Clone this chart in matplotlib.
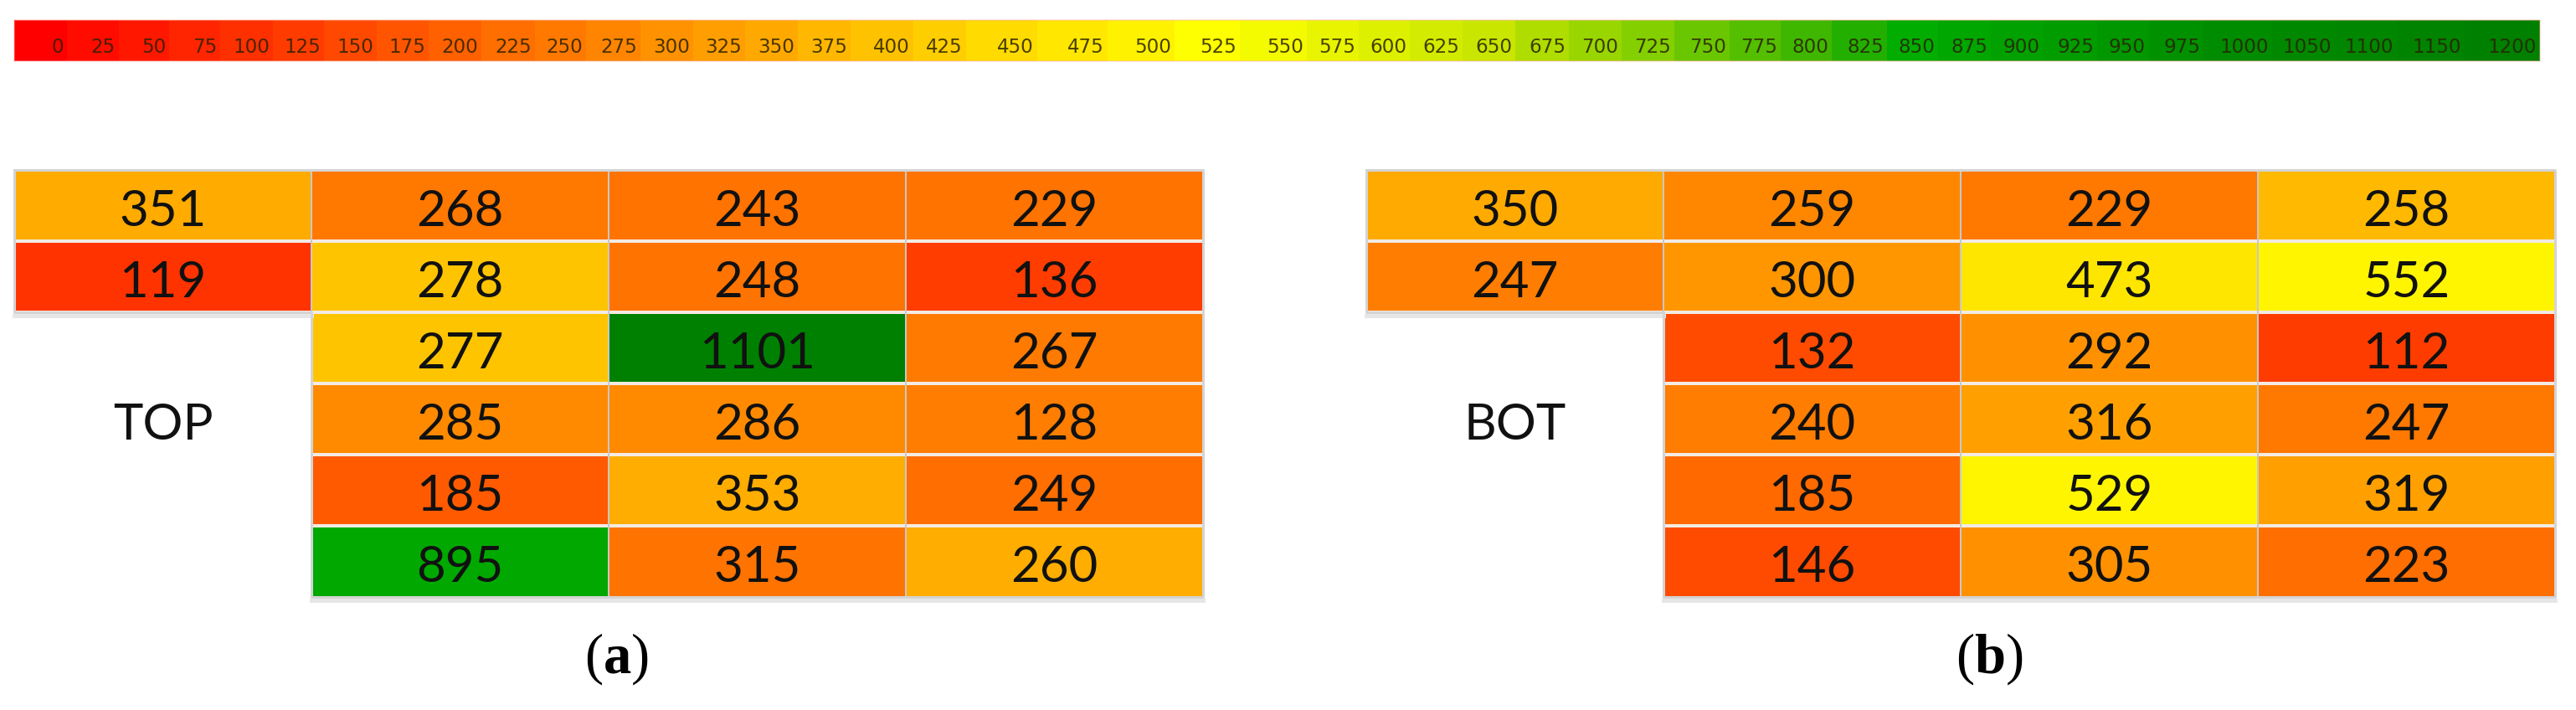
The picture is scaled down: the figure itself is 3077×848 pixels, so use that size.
import matplotlib
matplotlib.use("Agg")
import matplotlib.pyplot as plt
from matplotlib.patches import Rectangle
from matplotlib.colors import LinearSegmentedColormap, Normalize

# ---------------- data ----------------
scale_labels = [0, 25, 50, 75, 100, 125, 150, 175, 200, 225, 250, 275, 300, 325, 350,
                375, 400, 425, 450, 475, 500, 525, 550, 575, 600, 625, 650, 675, 700,
                725, 750, 775, 800, 825, 850, 875, 900, 925, 950, 975, 1000, 1050,
                1100, 1150, 1200]

# None = empty cell (label area)
top_values = [
    [351, 268, 243, 229],
    [119, 278, 248, 136],
    [None, 277, 1101, 267],
    [None, 285, 286, 128],
    [None, 185, 353, 249],
    [None, 895, 315, 260],
]
bot_values = [
    [350, 259, 229, 258],
    [247, 300, 473, 552],
    [None, 132, 292, 112],
    [None, 240, 316, 247],
    [None, 185, 529, 319],
    [None, 146, 305, 223],
]
panel_names = ["TOP", "BOT"]
panel_tags = ["a", "b"]

# ---------------- styles (cell fills) ----------------
top_colors = [
    ["#ffab00", "#ff7800", "#ff7300", "#ff7300"],
    ["#ff3300", "#ffc400", "#ff7300", "#ff3d00"],
    [None, "#ffc400", "#008000", "#ff7a00"],
    [None, "#ff8a00", "#ff8a00", "#ff7d00"],
    [None, "#ff5a00", "#ffad00", "#ff6e00"],
    [None, "#00a800", "#ff7300", "#ffad00"],
]
bot_colors = [
    ["#ffaa00", "#ff8700", "#ff7800", "#ffb900"],
    ["#ff7d00", "#ff9600", "#ffe600", "#fff500"],
    [None, "#ff4b00", "#ff9100", "#ff3c00"],
    [None, "#ff7d00", "#ffa000", "#ff7800"],
    [None, "#ff6900", "#fff500", "#ffa000"],
    [None, "#ff4b00", "#ff9100", "#ff6e00"],
]

scale_cmap = LinearSegmentedColormap.from_list(
    "scale",
    [(0.0, "#ff0000"), (0.2917, "#ffaa00"), (0.4375, "#ffff00"),
     (0.5417, "#c8e600"), (0.6875, "#28af00"), (0.708, "#00ad00"),
     (0.8333, "#008c00"), (1.0, "#008000")])
scale_norm = Normalize(0, 1200)

# ---------------- layout (pixel canvas) ----------------
W, H = 3077, 848
cb_left, cb_top, cb_bottom = 17, 24, 73
cb_right_edges = [80, 142, 202, 263, 326, 387, 450, 512, 575, 639, 700, 765, 828, 890,
                  953, 1016, 1091, 1154, 1239, 1323, 1403, 1481, 1561, 1623, 1684, 1747,
                  1810, 1874, 1937, 2000, 2066, 2127, 2188, 2254, 2315, 2378, 2441, 2505,
                  2567, 2632, 2714, 2789, 2863, 2944, 3034]

panel_left = [17, 1632]
col_w = 355
table_top = 203
row_h = 85
tag_x = [736, 2376]
tag_y = 787

plt.rcParams["mathtext.fontset"] = "custom"
plt.rcParams["mathtext.rm"] = "Liberation Serif"
plt.rcParams["mathtext.bf"] = "Liberation Serif:bold"

fig = plt.figure(figsize=(W / 100, H / 100), dpi=100)
ax = fig.add_axes([0, 0, 1, 1])
ax.set_xlim(0, W)
ax.set_ylim(H, 0)
ax.axis("off")

PT = 0.72  # points per pixel at dpi 100

# ---- colour scale bar ----
left = cb_left
for val, right in zip(scale_labels, cb_right_edges):
    ax.add_patch(Rectangle((left, cb_top), right - left, cb_bottom - cb_top,
                           facecolor=scale_cmap(scale_norm(val)), edgecolor="none"))
    ax.text(right - 4, 63, str(val), ha="right", va="baseline",
            fontsize=17 * PT * 1.35, family=["Liberation Sans Narrow", "DejaVu Sans"],
            color="#2a2200", alpha=0.85)
    left = right
ax.add_patch(Rectangle((cb_left, cb_top), cb_right_edges[-1] - cb_left, cb_bottom - cb_top,
                       facecolor="none", edgecolor="#ffb0a0", lw=1.5 * PT, alpha=0.5))

# ---- tables ----
def draw_table(x0, values, colors, name, tag, tx):
    nrows = len(values)
    ncols = len(values[0])
    for r in range(nrows):
        for c in range(ncols):
            v = values[r][c]
            if v is None:
                continue
            x = x0 + c * col_w
            y = table_top + r * row_h
            ax.add_patch(Rectangle((x, y), col_w, row_h, facecolor=colors[r][c],
                                   edgecolor="none"))
            ax.text(x + col_w / 2, y + row_h * 0.79, str(v), ha="center", va="baseline",
                    fontsize=60 * PT, family="Lato", color="#111111")
    # horizontal separators (light)
    for r in range(1, nrows):
        c0 = 0 if r <= 2 else 1
        ax.plot([x0 + c0 * col_w, x0 + ncols * col_w],
                [table_top + r * row_h] * 2, color="#f3ebe3", lw=4 * PT,
                solid_capstyle="butt", zorder=3)
    # vertical separators (grey)
    for c in range(1, ncols):
        ax.plot([x0 + c * col_w] * 2, [table_top, table_top + nrows * row_h],
                color="#c8c8c8", lw=2 * PT, zorder=4)
    # outline
    y_end = table_top + nrows * row_h
    y_mid = table_top + 2 * row_h
    outline_x = [x0, x0 + ncols * col_w, x0 + ncols * col_w, x0 + col_w, x0 + col_w, x0, x0]
    outline_y = [table_top, table_top, y_end, y_end, y_mid, y_mid, table_top]
    ax.plot(outline_x, outline_y, color="#d4d4d4", lw=3 * PT, zorder=5)
    ax.plot([x0 + col_w, x0 + ncols * col_w], [y_end + 4, y_end + 4],
            color="#e6e6e6", lw=5 * PT, zorder=2)
    ax.plot([x0, x0 + col_w], [y_mid + 4, y_mid + 4], color="#e6e6e6", lw=5 * PT, zorder=2)
    # panel name
    ax.text(x0 + col_w / 2, table_top + 3.5 * row_h + row_h * 0.29, name, ha="center",
            va="baseline", fontsize=60 * PT, family="Lato", color="#111111")
    # tag
    ax.text(tx, tag_y, r"$(\mathbf{%s})$" % tag, ha="center", va="center",
            fontsize=48, color="#000000")

draw_table(panel_left[0], top_values, top_colors, panel_names[0], panel_tags[0], tag_x[0])
draw_table(panel_left[1], bot_values, bot_colors, panel_names[1], panel_tags[1], tag_x[1])

fig.savefig("out.png", dpi=100, facecolor="white")
